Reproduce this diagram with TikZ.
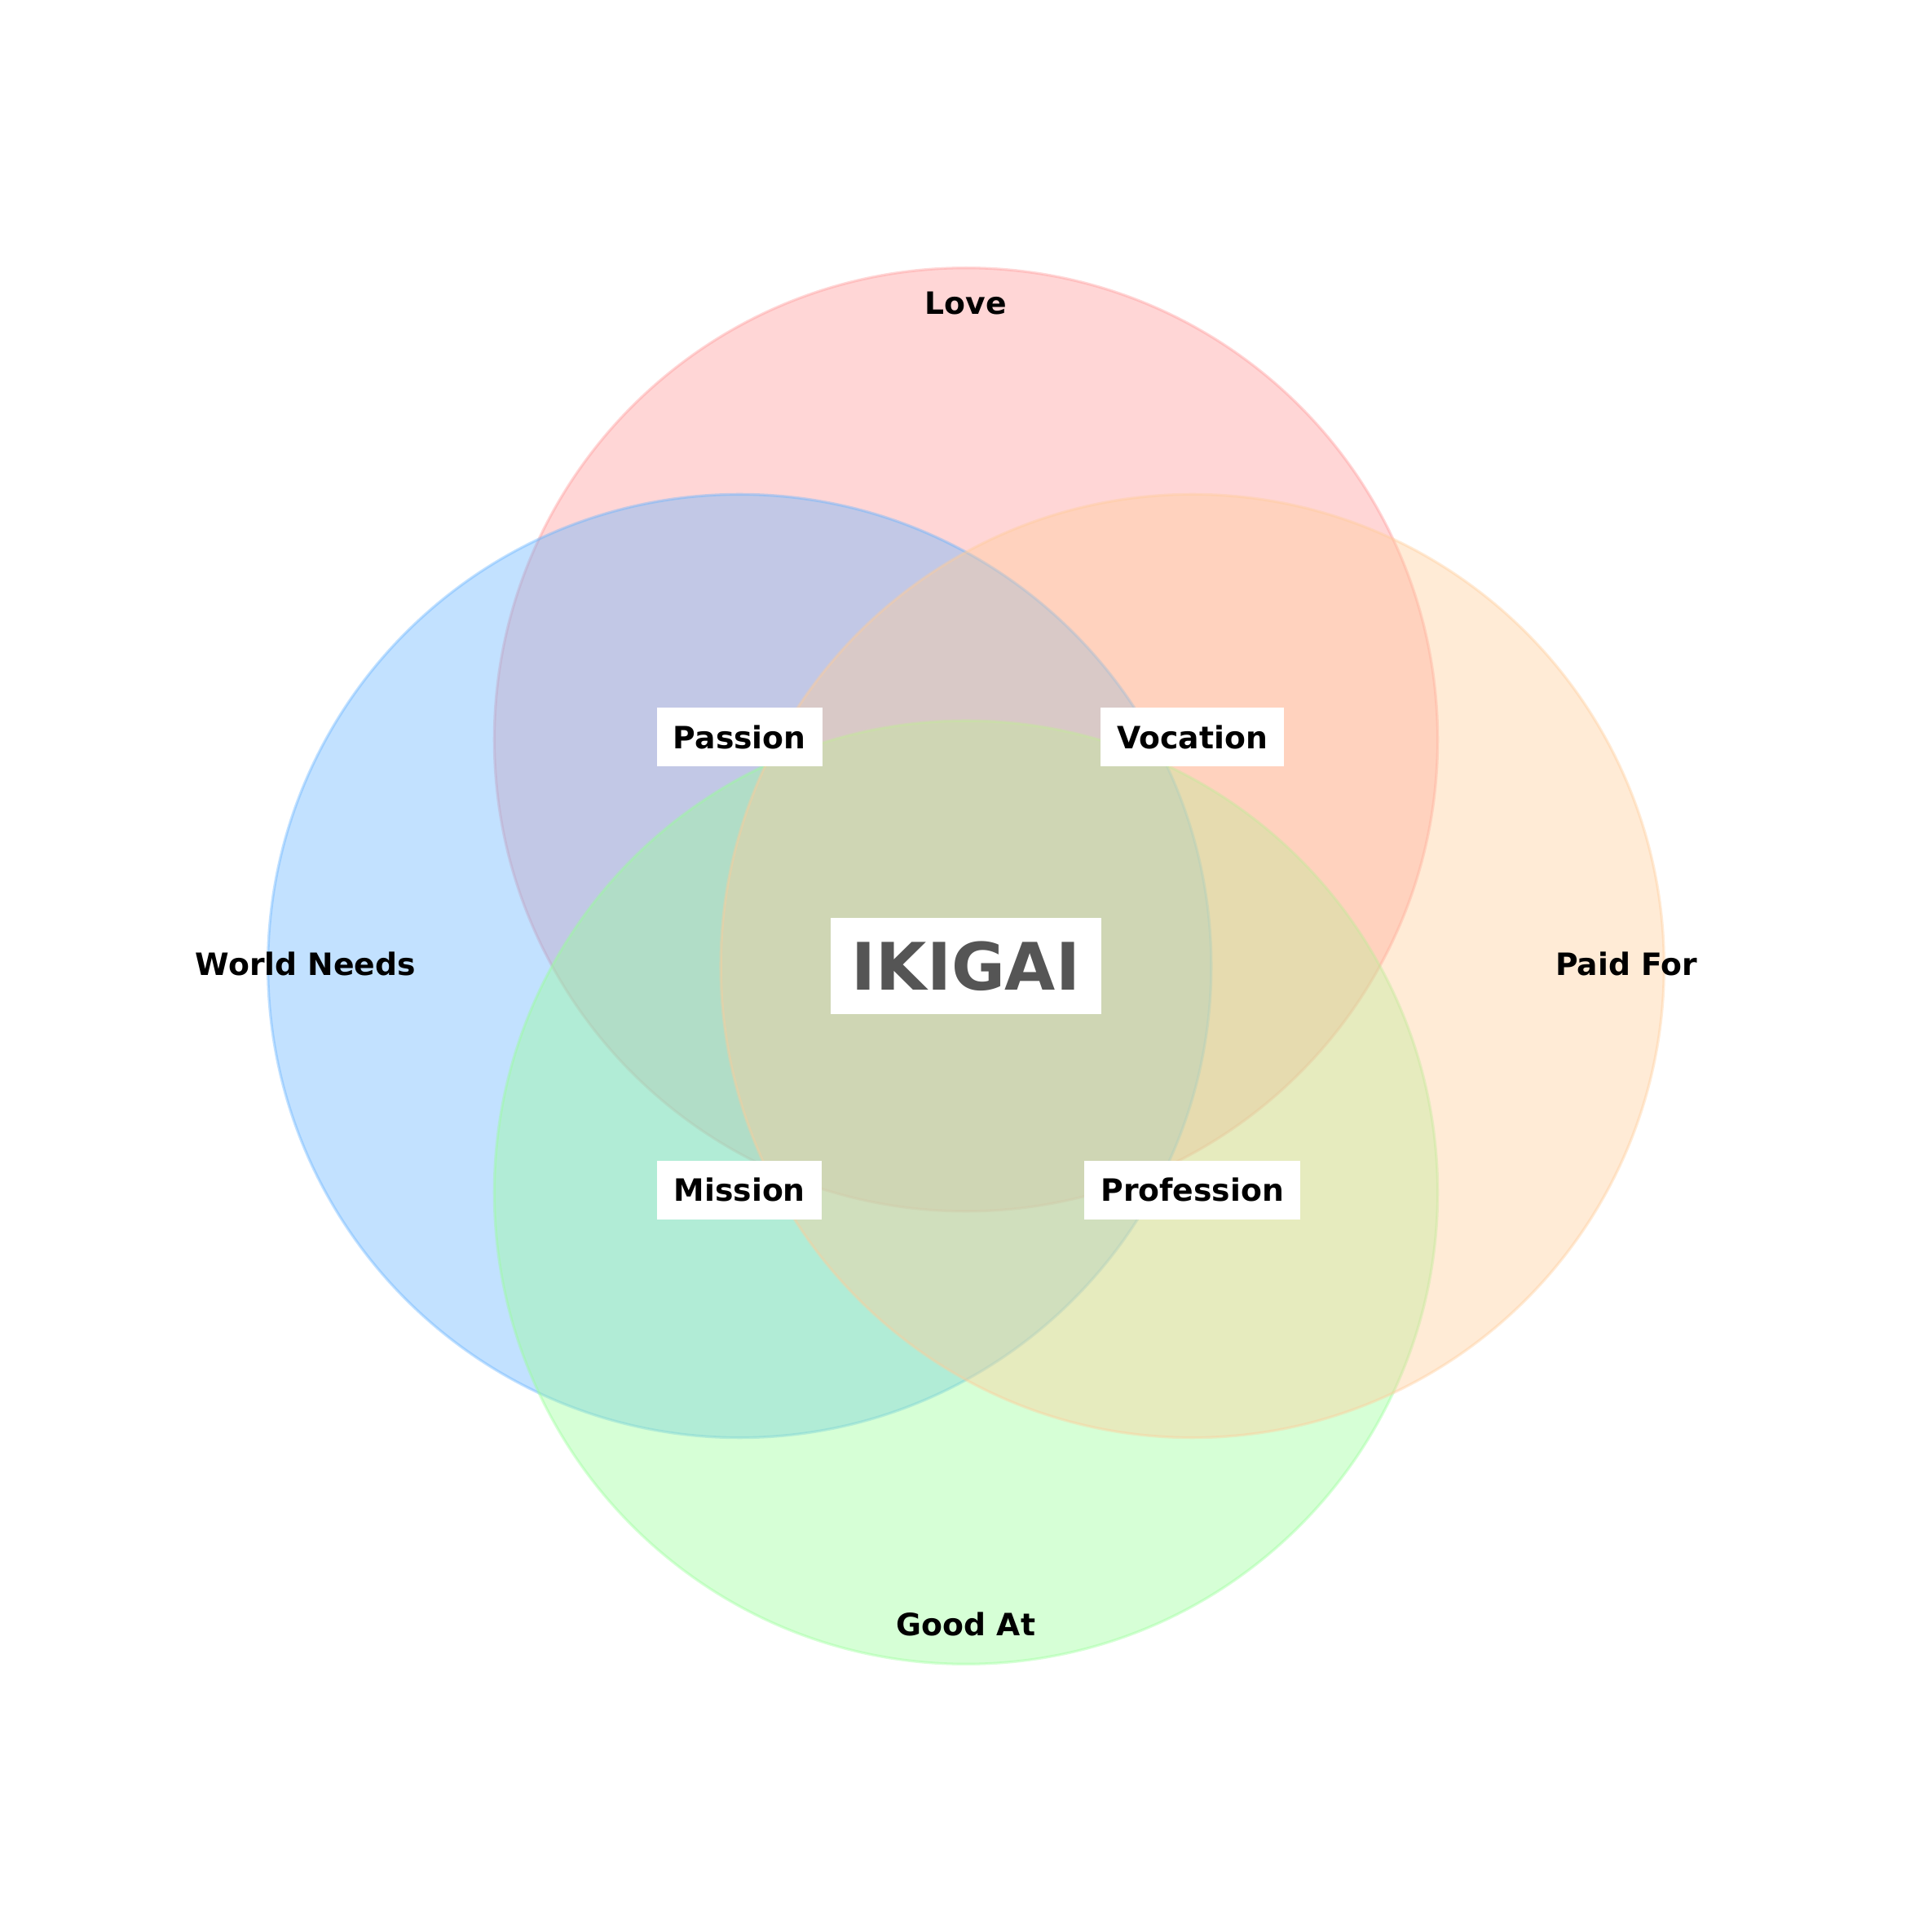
\documentclass[tikz,border=0pt]{standalone}
\usepackage{fontspec}
\setmainfont{DejaVu Sans}
\usepackage{tikz}
\usetikzlibrary{positioning}

\definecolor{lovecol}{HTML}{FF9999}
\definecolor{worldcol}{HTML}{66B3FF}
\definecolor{goodcol}{HTML}{99FF99}
\definecolor{paidcol}{HTML}{FFCC99}
\definecolor{ikigaicol}{HTML}{555555}

\tikzset{
    set/.style={line width=1pt, fill opacity=0.4, draw opacity=0.4},
    setlabel/.style={font=\bfseries\fontsize{11.5}{14}\selectfont, text=black, yshift=0.9pt},
    overlap/.style={setlabel, fill=white, inner xsep=6.2pt, inner ysep=0pt, minimum height=21.9pt},
    centre/.style={font=\bfseries\fontsize{24.5}{28}\selectfont, text=ikigaicol, fill=white,
        inner xsep=7.9pt, inner ysep=0pt, minimum height=35.8pt}
}

\begin{document}
\begin{tikzpicture}[x=2.48cm, y=2.48cm]
    \useasboundingbox (-5.12,-5.12) rectangle (5.12,5.12);

    % draw the sets
    \filldraw[set, fill=lovecol, draw=lovecol] (0,1.2) circle (2.5);
    \filldraw[set, fill=worldcol, draw=worldcol] (-1.2,0) circle (2.5);
    \filldraw[set, fill=goodcol, draw=goodcol] (0,-1.2) circle (2.5);
    \filldraw[set, fill=paidcol, draw=paidcol] (1.2,0) circle (2.5);

    % the names of the sets
    \node[setlabel] (love) at (0,3.5) {Love};
    \node[setlabel] (world) at (-3.5,0) {World Needs};
    \node[setlabel] (paid) at (3.5,0) {Paid For};
    \node[setlabel] (good) at (0,-3.5) {Good At};

    % the overlaps
    \node[overlap] (passion) at (-1.2,1.2) {Passion};
    \node[overlap] (vocation) at (1.2,1.2) {Vocation};
    \node[overlap] (mission) at (-1.2,-1.2) {Mission};
    \node[overlap] (profession) at (1.2,-1.2) {Profession};

    % the middle
    \node[centre] (ikigai) at (0,0) {IKIGAI};

\end{tikzpicture}
\end{document}
